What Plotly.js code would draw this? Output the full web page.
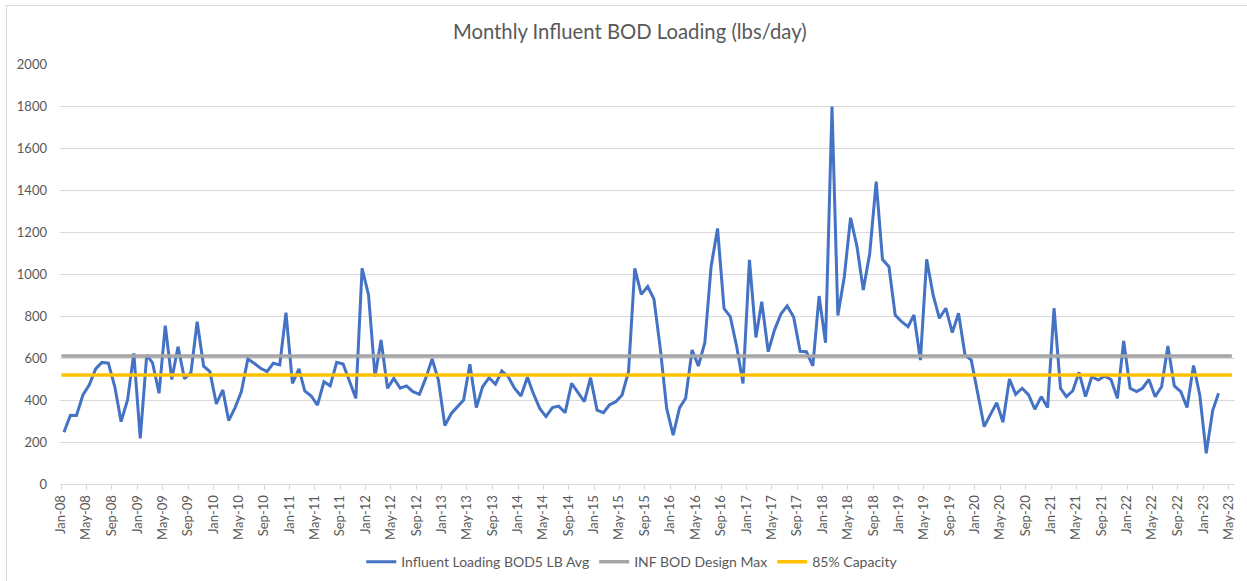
<!DOCTYPE html>
<html><head><meta charset="utf-8">
<script src="https://cdn.plot.ly/plotly-3.0.1.min.js"></script>
<style>
body{margin:0;background:#fff}
#wrap{position:relative;width:1247px;height:581px;overflow:hidden}
#chart{width:1247px;height:581px}
#frame{position:absolute;left:6px;top:5px;width:1240px;height:580px;border:1px solid #d9d9d9;pointer-events:none}
</style>
</head><body>
<div id="wrap"><div id="chart"></div><div id="frame"></div></div>
<script>
// ---- data ----
const startYear = 2008;
const seriesName = 'Influent Loading BOD5 LB Avg';
const bodLoading = [
 246,327,326,424,471,548,579,576,463,297,400,622,
 217,614,577,432,754,498,654,502,530,773,561,535,
 381,448,302,364,440,595,575,551,535,575,567,816,
 479,548,443,419,376,487,467,579,571,495,408,1027,
 900,511,686,456,503,456,467,440,427,503,595,495,
 278,336,364,400,570,364,463,506,475,538,511,456,
 419,508,432,360,321,364,371,340,479,435,392,506,
 352,340,376,392,424,535,1027,903,940,880,640,360,
 233,364,408,638,562,673,1035,1217,836,797,654,479,
 1067,698,868,630,733,810,848,795,632,630,562,895,
 673,1797,802,987,1268,1130,924,1098,1440,1070,1035,805,
 773,749,805,590,1070,900,789,837,721,813,614,590,
 432,273,329,387,294,500,427,456,424,356,416,364,
 837,456,416,444,532,416,511,495,514,498,408,681,
 456,440,456,498,416,463,657,467,440,364,564,424,
 146,350,432
];
const designMaxName = 'INF BOD Design Max';
const designMax = 610;
const capacityName = '85% Capacity';
const capacity85 = 518.5;
const refLineDates = ['2008-01-03', '2023-05-18'];
const monthAbbr = ['Jan','Feb','Mar','Apr','May','Jun','Jul','Aug','Sep','Oct','Nov','Dec'];
const tickStepMonths = 4;
const tickCount = 47; // Jan-08 ... May-23
const titleText = 'Monthly Influent BOD Loading (lbs/day)';

// ---- build ----
function pad(n){return (n<10?'0':'')+n;}
const dates = bodLoading.map((_, i) => {
  const y = startYear + Math.floor(i/12), m = i % 12;
  return y + '-' + pad(m+1) + '-15';
});
const tickvals = [], ticktext = [];
for (let k = 0; k < tickCount; k++) {
  const mi = k * tickStepMonths;
  const y = startYear + Math.floor(mi/12), m = mi % 12;
  tickvals.push(y + '-' + pad(m+1) + '-01');
  ticktext.push(monthAbbr[m] + '-' + String(y).slice(2));
}

const fam = 'Lato, "Open Sans", sans-serif';
const grey = '#595959';

const traces = [
  {x: dates, y: bodLoading, name: seriesName, type: 'scatter', mode: 'lines',
   line: {color: '#4472C4', width: 3, shape: 'linear'}},
  {x: refLineDates, y: [designMax, designMax], name: designMaxName, type: 'scatter', mode: 'lines',
   line: {color: '#A5A5A5', width: 3.5}},
  {x: refLineDates, y: [capacity85, capacity85], name: capacityName, type: 'scatter', mode: 'lines',
   line: {color: '#FFC000', width: 3.5}}
];

const layout = {
  width: 1247, height: 581,
  margin: {l: 60, r: 12, t: 64, b: 97, autoexpand: false},
  paper_bgcolor: '#ffffff', plot_bgcolor: '#ffffff',
  font: {family: fam, color: grey, size: 13},
  title: {text: titleText, font: {family: fam, size: 20.3, color: grey},
          x: 0.505, xanchor: 'center', y: 1 - 32/581, yanchor: 'middle', yref: 'container'},
  xaxis: {
    type: 'date',
    range: ['2007-12-27', '2023-06-02'],
    tickvals: tickvals, ticktext: ticktext, tickangle: -90,
    ticks: 'outside', ticklen: 5, tickcolor: '#d9d9d9', tickwidth: 1,
    showgrid: false, showline: true, linecolor: '#d9d9d9', linewidth: 1,
    zeroline: false, tickfont: {family: fam, size: 13, color: grey}
  },
  yaxis: {
    range: [0, 2000], dtick: 200, tick0: 0,
    showgrid: true, gridcolor: '#d9d9d9', gridwidth: 1,
    zeroline: false, showline: false, ticks: '',
    ticklabelstandoff: 12,
    tickfont: {family: fam, size: 13, color: grey}
  },
  showlegend: true,
  legend: {orientation: 'h', x: 0.487, xanchor: 'center', y: -0.186, yanchor: 'middle',
           font: {family: fam, size: 14, color: grey}, itemwidth: 30,
           traceorder: 'normal'}
};

Plotly.newPlot('chart', traces, layout, {displayModeBar: false, staticPlot: true});
</script>
</body></html>
